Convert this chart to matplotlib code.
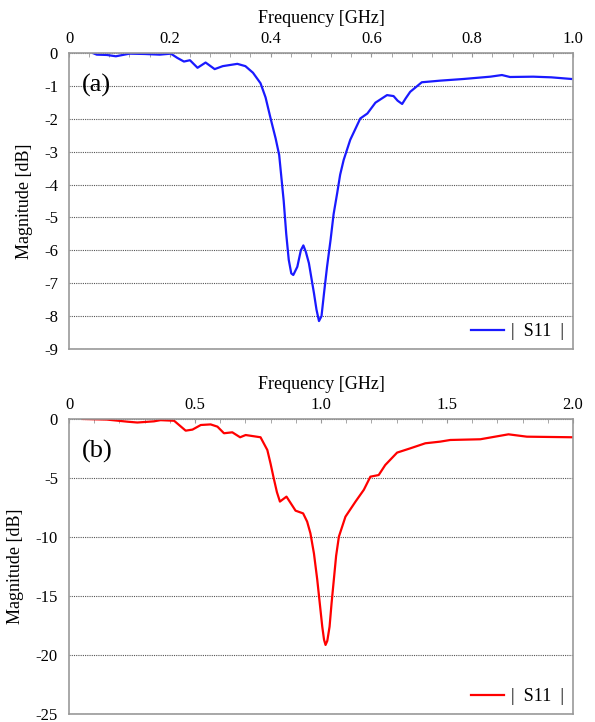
import numpy as np
import matplotlib
matplotlib.use("Agg")
import matplotlib.pyplot as plt
from matplotlib.ticker import MultipleLocator

plt.rcParams['font.family'] = ['Liberation Serif', 'DejaVu Serif']
plt.rcParams['axes.unicode_minus'] = False

# (a) 0-1 GHz sweep
freq_a = [0.047, 0.055, 0.075, 0.093, 0.12, 0.15, 0.18, 0.202, 0.215, 0.228, 0.24, 0.255,
          0.271, 0.289, 0.305, 0.334, 0.35, 0.365, 0.38, 0.39, 0.40, 0.41, 0.417, 0.426,
          0.431, 0.436, 0.441, 0.445, 0.453, 0.46, 0.465, 0.47, 0.476, 0.486, 0.491,
          0.496, 0.501, 0.506, 0.512, 0.519, 0.525, 0.532, 0.538, 0.545, 0.558, 0.578,
          0.592, 0.608, 0.631, 0.644, 0.652, 0.661, 0.668, 0.677, 0.700, 0.737, 0.783,
          0.836, 0.859, 0.875, 0.921, 0.957, 0.997]
s11_a = [0.0, -0.05, -0.06, -0.1, -0.02, -0.03, -0.05, -0.02, -0.15, -0.26, -0.22, -0.45,
         -0.29, -0.49, -0.40, -0.33, -0.40, -0.6, -0.92, -1.35, -1.99, -2.6, -3.1, -4.5,
         -5.5, -6.29, -6.7, -6.75, -6.5, -6.0, -5.85, -6.05, -6.39, -7.3, -7.8,
         -8.15, -8.0, -7.3, -6.5, -5.68, -4.9, -4.27, -3.7, -3.25, -2.64, -1.99,
         -1.84, -1.51, -1.28, -1.31, -1.45, -1.55, -1.38, -1.18, -0.89, -0.84, -0.79,
         -0.72, -0.67, -0.73, -0.72, -0.74, -0.79]

# (b) 0-2 GHz sweep
freq_b = [0.054, 0.15, 0.232, 0.271, 0.337, 0.363, 0.417, 0.463, 0.49, 0.523, 0.562,
          0.589, 0.615, 0.648, 0.679, 0.701, 0.760, 0.787, 0.80, 0.811, 0.825, 0.837,
          0.863, 0.899, 0.929, 0.945, 0.958, 0.972, 0.985, 0.995, 1.005, 1.012, 1.018,
          1.025, 1.034, 1.042, 1.051, 1.06, 1.071, 1.097, 1.137, 1.170, 1.196, 1.229,
          1.255, 1.302, 1.354, 1.414, 1.473, 1.513, 1.632, 1.744, 1.817, 1.999]
s11_b = [0.0, -0.05, -0.23, -0.3, -0.2, -0.1, -0.15, -0.99, -0.9, -0.51, -0.46,
         -0.65, -1.21, -1.13, -1.55, -1.36, -1.55, -2.63, -3.8, -4.89, -6.2, -7.0,
         -6.58, -7.77, -8.0, -8.7, -9.69, -11.4, -13.6, -15.6, -17.6, -18.7, -19.15,
         -18.8, -17.6, -15.6, -13.6, -11.6, -9.97, -8.28, -7.0, -6.0, -4.89, -4.75,
         -3.9, -2.85, -2.49, -2.06, -1.92, -1.78, -1.72, -1.3, -1.5, -1.55]

fig = plt.figure(figsize=(5.95, 7.22), dpi=100)
ax1 = fig.add_axes([0.1160, 0.5166, 0.847, 0.410])
ax2 = fig.add_axes([0.1160, 0.0111, 0.847, 0.4086])

panels = [
    (ax1, freq_a, s11_a, '#1a1aff', (0, 1.0), (-9, 0), 0.2, 0.04, 1, '(a)'),
    (ax2, freq_b, s11_b, '#ff0000', (0, 2.0), (-25, 0), 0.5, 0.1, 5, '(b)'),
]

for ax, f, s, col, xl, yl, xmaj, xmin, ystep, tag in panels:
    ax.plot(f, s, color=col, lw=1.6, label='|  S11  |')
    ax.set_xlim(*xl)
    ax.set_ylim(*yl)
    ax.xaxis.tick_top()
    ax.xaxis.set_label_position('top')
    ax.xaxis.set_major_locator(MultipleLocator(xmaj))
    ax.xaxis.set_minor_locator(MultipleLocator(xmin))
    ax.yaxis.set_major_locator(MultipleLocator(ystep))
    ax.set_xticklabels(['0' if t == 0 else f'{t:.1f}' for t in ax.get_xticks()])
    ax.tick_params(axis='x', which='both', direction='in', length=3, color='#999999',
                   labelsize=12, pad=4)
    ax.tick_params(axis='y', length=0, labelsize=12, pad=8)
    ax.set_xlabel('Frequency [GHz]', fontsize=13, labelpad=6)
    ax.set_ylabel('Magnitude [dB]', fontsize=13, labelpad=8)
    for sp in ax.spines.values():
        sp.set_color('#999999')
        sp.set_linewidth(1.2)
    ax.grid(axis='y', linestyle=(0, (1, 1)), color='#555555', lw=0.8)
    ax.text(0.025, 0.93, tag, transform=ax.transAxes, fontsize=19, va='top')
    ax.legend(loc='lower right', frameon=False, fontsize=13, handlelength=1.8,
              borderaxespad=0.1, handletextpad=0.4)

fig.savefig('out.png', dpi=100)
